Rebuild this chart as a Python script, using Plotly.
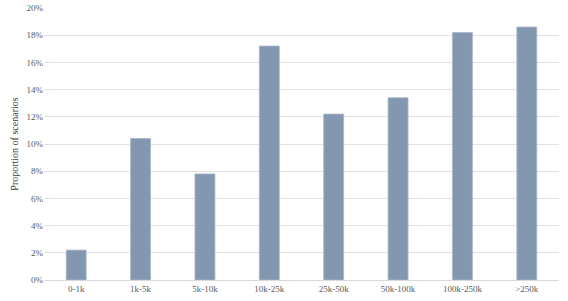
import plotly.graph_objects as go

categories = ["0-1k", "1k-5k", "5k-10k", "10k-25k", "25k-50k", "50k-100k", "100k-250k", ">250k"]
values = [2.2, 10.4, 7.8, 17.2, 12.2, 13.4, 18.2, 18.6]
y_ticks = [0, 2, 4, 6, 8, 10, 12, 14, 16, 18, 20]
y_tick_labels = ["0%", "2%", "4%", "6%", "8%", "10%", "12%", "14%", "16%", "18%", "20%"]

fig = go.Figure(go.Bar(
    x=categories, y=values, width=0.31,
    marker=dict(color="#8497b0", line=dict(color="#a9b6c8", width=0.8)),
))
fig.update_layout(
    template="none",
    width=568, height=301,
    margin=dict(l=44, r=9, t=8, b=21),
    paper_bgcolor="white", plot_bgcolor="white",
    font=dict(family="Liberation Serif, DejaVu Serif, serif", size=9, color="#595959"),
    showlegend=False,
)
fig.update_xaxes(showgrid=False, showline=True, linecolor="#d9d9d9", linewidth=1,
                 ticks="", tickfont=dict(size=9, color="#595959"), ticklen=0, automargin=False)
fig.update_yaxes(range=[0, 20], tickmode="array", tickvals=y_ticks, ticktext=y_tick_labels,
                 showgrid=True, automargin=False, ticks="",
                 gridcolor="#e3e3e3", gridwidth=1, zeroline=False, showline=False,
                 tickfont=dict(size=9, color="#595959"),
                 title=dict(text="Proportion of scenarios", font=dict(size=10, color="#404040"), standoff=6))
fig.write_html("out.html")
